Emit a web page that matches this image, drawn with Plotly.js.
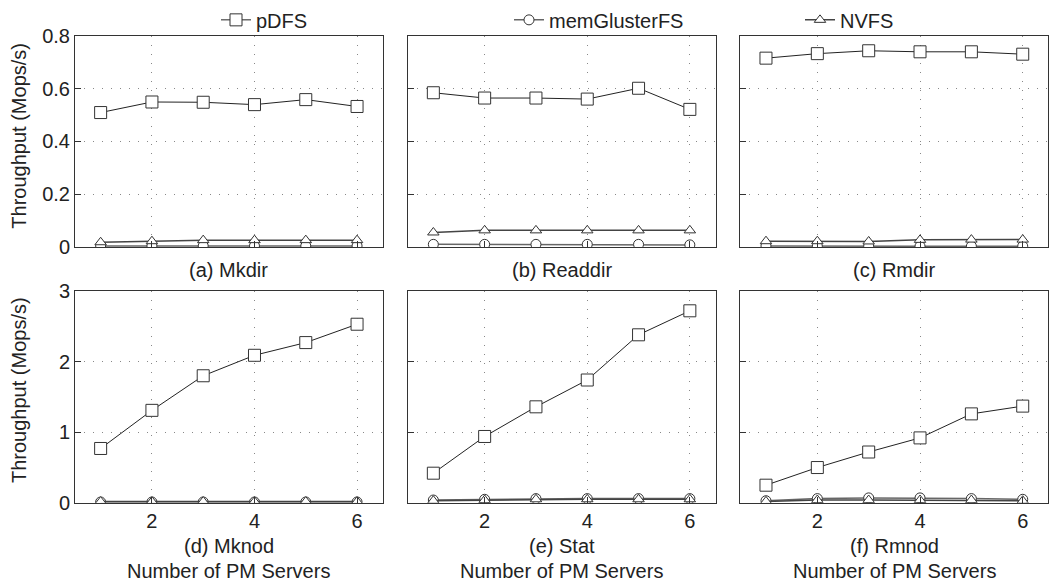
<!DOCTYPE html>
<html>
<head>
<meta charset="utf-8">
<script src="https://cdn.plot.ly/plotly-3.0.1.min.js"></script>
<style>html,body{margin:0;padding:0;background:#fff}#chart{width:1051px;height:584px}</style>
</head>
<body>
<div id="chart"></div>
<script>
// ---- data ----
const servers = [1, 2, 3, 4, 5, 6];
const seriesNames = ["pDFS", "memGlusterFS", "NVFS"];
const panelTitles = ["(a) Mkdir", "(b) Readdir", "(c) Rmdir", "(d) Mknod", "(e) Stat", "(f) Rmnod"];
const xTitle = "Number of PM Servers";
const yTitle = "Throughput (Mops/s)";
const xTickVals = [2, 4, 6];

const mkdirPDFS = [0.509, 0.549, 0.548, 0.539, 0.558, 0.532];
const mkdirMem  = [0.004, 0.004, 0.004, 0.004, 0.004, 0.004];
const mkdirNVFS = [0.018, 0.022, 0.026, 0.026, 0.026, 0.026];

const readdirPDFS = [0.584, 0.564, 0.564, 0.560, 0.601, 0.521];
const readdirMem  = [0.010, 0.010, 0.010, 0.010, 0.010, 0.008];
const readdirNVFS = [0.055, 0.063, 0.063, 0.063, 0.063, 0.063];

const rmdirPDFS = [0.715, 0.732, 0.743, 0.739, 0.739, 0.730];
const rmdirMem  = [0.004, 0.003, 0.003, 0.003, 0.003, 0.003];
const rmdirNVFS = [0.022, 0.022, 0.021, 0.027, 0.028, 0.028];

const mknodPDFS = [0.77, 1.31, 1.80, 2.09, 2.27, 2.53];
const mknodMem  = [0.012, 0.012, 0.012, 0.012, 0.012, 0.012];
const mknodNVFS = [0.018, 0.018, 0.018, 0.018, 0.018, 0.018];

const statPDFS = [0.42, 0.94, 1.36, 1.74, 2.38, 2.72];
const statMem  = [0.04, 0.05, 0.06, 0.06, 0.06, 0.06];
const statNVFS = [0.03, 0.04, 0.05, 0.05, 0.05, 0.05];

const rmnodPDFS = [0.25, 0.50, 0.72, 0.92, 1.26, 1.37];
const rmnodMem  = [0.03, 0.06, 0.07, 0.07, 0.06, 0.05];
const rmnodNVFS = [0.02, 0.04, 0.04, 0.04, 0.04, 0.03];

const panelData = [
  [mkdirPDFS, mkdirMem, mkdirNVFS],
  [readdirPDFS, readdirMem, readdirNVFS],
  [rmdirPDFS, rmdirMem, rmdirNVFS],
  [mknodPDFS, mknodMem, mknodNVFS],
  [statPDFS, statMem, statNVFS],
  [rmnodPDFS, rmnodMem, rmnodNVFS]
];

// ---- layout geometry (pixels) ----
const W = 1051, H = 584;
const colPx = [[75, 382.7], [407.7, 715.5], [740.3, 1048.4]];
const rowPx = [[30, 243.5], [288, 502]];
const px = v => v / W;
const py = v => 1 - v / H;
const FONT = "Liberation Sans, Arial, Helvetica, sans-serif";

const styles = [
  {symbol: "square", size: 12, lineColor: "#222", lineWidth: 1},
  {symbol: "circle", size: 10, lineColor: "#666", lineWidth: 1.5},
  {symbol: "triangle-up", size: 10, lineColor: "#444", lineWidth: 1.5}
];
const legendIds = ["legend", "legend2", "legend3"];
const drawOrder = [1, 2, 0];

const traces = [];
const layout = {
  width: W, height: H,
  margin: {l: 0, r: 0, t: 0, b: 0},
  paper_bgcolor: "#fff", plot_bgcolor: "#fff",
  font: {family: FONT, size: 20, color: "#222"},
  annotations: []
};

for (let p = 0; p < 6; p++) {
  const row = Math.floor(p / 3), col = p % 3;
  const n = p + 1;
  const xa = "x" + (n === 1 ? "" : n), ya = "y" + (n === 1 ? "" : n);
  const xkey = "xaxis" + (n === 1 ? "" : n), ykey = "yaxis" + (n === 1 ? "" : n);
  for (const s of drawOrder) {
    const st = styles[s];
    traces.push({
      x: servers, y: panelData[p][s], xaxis: xa, yaxis: ya,
      type: "scatter", mode: "lines+markers", name: seriesNames[s],
      legend: legendIds[s], showlegend: p === 0,
      line: {color: st.lineColor, width: st.lineWidth},
      marker: {symbol: st.symbol, size: st.size, color: "#fff", line: {color: "#333", width: 1}},
      hoverinfo: "skip"
    });
  }
  layout[xkey] = {
    domain: [px(colPx[col][0]), px(colPx[col][1])],
    range: [0.5, 6.5], anchor: ya,
    tickvals: xTickVals, showticklabels: row === 1,
    ticks: "inside", ticklen: 6, tickcolor: "#333",
    showgrid: true, gridcolor: "#888", griddash: "1px,8px", gridwidth: 1,
    showline: true, mirror: true, linecolor: "#333", linewidth: 1,
    zeroline: false, tickfont: {size: 20, family: FONT, color: "#222"}
  };
  layout[ykey] = {
    domain: [py(rowPx[row][1]), py(rowPx[row][0])],
    range: row === 0 ? [0, 0.8] : [0, 3], anchor: xa,
    tickvals: row === 0 ? [0, 0.2, 0.4, 0.6, 0.8] : [0, 1, 2, 3],
    ticktext: row === 0 ? ["0", "0.2", "0.4", "0.6", "0.8"] : ["0", "1", "2", "3"],
    showticklabels: col === 0,
    ticks: "inside", ticklen: 6, tickcolor: "#333",
    showgrid: true, gridcolor: "#888", griddash: "1px,8px", gridwidth: 1,
    showline: true, mirror: true, linecolor: "#333", linewidth: 1,
    zeroline: false, tickfont: {size: 20, family: FONT, color: "#222"}
  };
  const cx = px((colPx[col][0] + colPx[col][1]) / 2);
  layout.annotations.push({
    text: panelTitles[p], xref: "paper", yref: "paper", x: cx,
    y: py(row === 0 ? 267 : 546), xanchor: "center", yanchor: "middle",
    showarrow: false, font: {size: 20, family: FONT, color: "#222"}
  });
  if (row === 1) {
    layout.annotations.push({
      text: xTitle, xref: "paper", yref: "paper", x: cx, y: py(571),
      xanchor: "center", yanchor: "middle", showarrow: false,
      font: {size: 20, family: FONT, color: "#222"}
    });
  }
}
layout.annotations.push({
  text: yTitle, xref: "paper", yref: "paper", x: px(19), y: py(131),
  xanchor: "center", yanchor: "middle", textangle: -90, showarrow: false,
  font: {size: 20, family: FONT, color: "#222"}
});
layout.annotations.push({
  text: yTitle, xref: "paper", yref: "paper", x: px(19), y: py(388),
  xanchor: "center", yanchor: "middle", textangle: -90, showarrow: false,
  font: {size: 20, family: FONT, color: "#222"}
});

const legendX = [216, 509, 800];
legendIds.forEach((id, i) => {
  layout[id] = {
    x: px(legendX[i]), y: py(14), xanchor: "left", yanchor: "middle",
    orientation: "h", bgcolor: "rgba(0,0,0,0)", borderwidth: 0,
    font: {size: 20, family: FONT, color: "#222"}
  };
});

Plotly.newPlot("chart", traces, layout, {displayModeBar: false, staticPlot: true});
</script>
</body>
</html>
